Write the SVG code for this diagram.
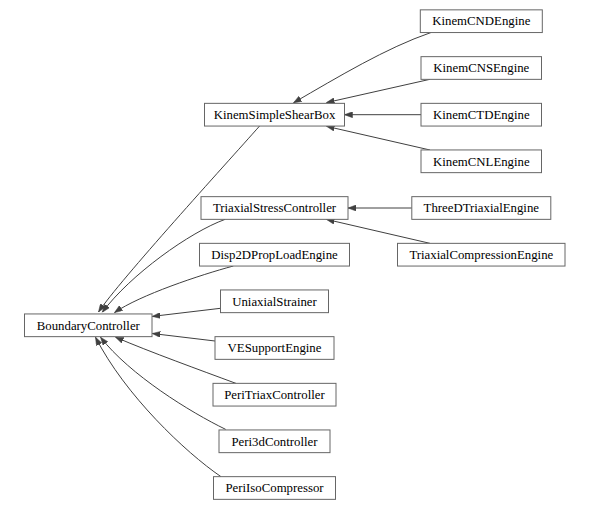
<svg xmlns="http://www.w3.org/2000/svg" width="589" height="510" viewBox="0 0 589 510">
<style>
  .node rect { fill: #ffffff; stroke: #666666; stroke-width: 1; }
  .node text { font-family: "Liberation Serif", "Times New Roman", serif; font-size: 12.8px; fill: #000000; text-anchor: middle; }
  .edges path { fill: none; stroke: #404040; stroke-width: 1; marker-end: url(#arrow); }
</style>
<defs>
  <marker id="arrow" markerUnits="userSpaceOnUse" markerWidth="8" markerHeight="6" viewBox="0 0 8 6" refX="8" refY="3" orient="auto">
    <path d="M0,0 L8,3 L0,6 z" fill="#404040" stroke="#404040" stroke-width="0.5"/>
  </marker>
</defs>
<rect width="589" height="510" fill="#ffffff"/>
<g class="edges" id="edges">
  <path d="M431,32.5 C386,48 338.5,76.7 293.5,102.8"/>
  <path d="M430,79.3 L326.5,102.6"/>
  <path d="M421,114.7 L344.5,114.7"/>
  <path d="M430,150 L326.5,126.3"/>
  <path d="M411.8,208 L348,208"/>
  <path d="M430,243.35 L326.5,219.4"/>
  <path d="M259.6,126 C225,165 120,280 98.5,312"/>
  <path d="M225,219.4 C190,232 130,275 102.3,312.3"/>
  <path d="M233.3,266 C200,275 140,295 114.5,312.6"/>
  <path d="M220.5,308.3 L152.3,316.4"/>
  <path d="M215,341 L152.3,333.5"/>
  <path d="M236,383.4 C200,370 150,352 115.5,337.2"/>
  <path d="M225.7,429.4 C190,412 130,375 100.5,337.2"/>
  <path d="M221,476.7 C185,452 125,395 95.5,337.2"/>
</g>
<g class="node" id="BoundaryController"><rect x="24.5" y="313.95" width="127.5" height="22.7"/><text x="88.3" y="329.5">BoundaryController</text></g>
<g class="node" id="KinemSimpleShearBox"><rect x="204.5" y="103.35" width="140" height="22.7"/><text x="274.5" y="118.9">KinemSimpleShearBox</text></g>
<g class="node" id="TriaxialStressController"><rect x="201" y="196.65" width="147" height="22.7"/><text x="274.5" y="212.2">TriaxialStressController</text></g>
<g class="node" id="Disp2DPropLoadEngine"><rect x="199.5" y="243.35" width="150" height="22.7"/><text x="274.5" y="258.9">Disp2DPropLoadEngine</text></g>
<g class="node" id="UniaxialStrainer"><rect x="220.5" y="289.95" width="108" height="22.7"/><text x="274.5" y="305.5">UniaxialStrainer</text></g>
<g class="node" id="VESupportEngine"><rect x="215" y="336.65" width="119" height="22.7"/><text x="274.5" y="352.2">VESupportEngine</text></g>
<g class="node" id="PeriTriaxController"><rect x="213" y="383.35" width="123" height="22.7"/><text x="274.5" y="398.9">PeriTriaxController</text></g>
<g class="node" id="Peri3dController"><rect x="219" y="429.95" width="111" height="22.7"/><text x="274.5" y="445.5">Peri3dController</text></g>
<g class="node" id="PeriIsoCompressor"><rect x="213.5" y="476.65" width="122" height="22.7"/><text x="274.5" y="492.2">PeriIsoCompressor</text></g>
<g class="node" id="KinemCNDEngine"><rect x="420.3" y="9.85" width="122" height="22.7"/><text x="481.3" y="25.4">KinemCNDEngine</text></g>
<g class="node" id="KinemCNSEngine"><rect x="421" y="56.65" width="120.5" height="22.7"/><text x="481.3" y="72.2">KinemCNSEngine</text></g>
<g class="node" id="KinemCTDEngine"><rect x="421" y="103.35" width="120.5" height="22.7"/><text x="481.3" y="118.9">KinemCTDEngine</text></g>
<g class="node" id="KinemCNLEngine"><rect x="421" y="149.95" width="120.5" height="22.7"/><text x="481.3" y="165.5">KinemCNLEngine</text></g>
<g class="node" id="ThreeDTriaxialEngine"><rect x="411.8" y="196.65" width="139" height="22.7"/><text x="481.3" y="212.2">ThreeDTriaxialEngine</text></g>
<g class="node" id="TriaxialCompressionEngine"><rect x="397.5" y="243.35" width="167.5" height="22.7"/><text x="481.3" y="258.9">TriaxialCompressionEngine</text></g>
</svg>
